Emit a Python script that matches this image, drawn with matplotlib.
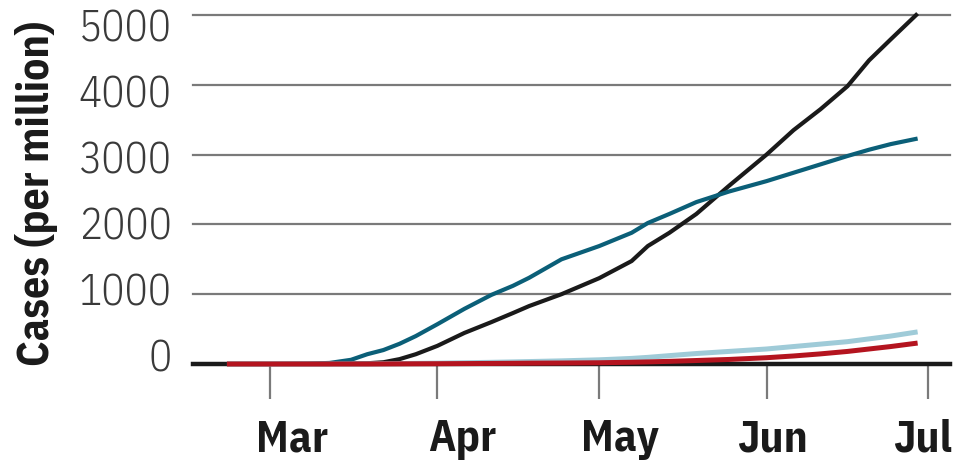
import matplotlib
matplotlib.use("Agg")
import matplotlib.pyplot as plt
import datetime as dt

plt.rcParams['font.family'] = ['IBM Plex Sans Condensed', 'DejaVu Sans']

# dates of the samples (2020)
dates = ["2020-02-22", "2020-03-01", "2020-03-08", "2020-03-12", "2020-03-16",
         "2020-03-19", "2020-03-22", "2020-03-25", "2020-03-28", "2020-04-01",
         "2020-04-06", "2020-04-11", "2020-04-15", "2020-04-18", "2020-04-24",
         "2020-05-01", "2020-05-07", "2020-05-10", "2020-05-14", "2020-05-19",
         "2020-05-25", "2020-06-01", "2020-06-06", "2020-06-11", "2020-06-16",
         "2020-06-20", "2020-06-24", "2020-06-29"]

black = [0, 0, 0, 0, 5, 10, 25, 70, 140, 260,
         445, 600, 730, 830, 1000, 1230, 1475, 1690, 1880, 2150,
         2550, 3000, 3350, 3650, 3980, 4350, 4650, 5020]

teal = [0, 0, 5, 15, 60, 140, 200, 290, 400, 570,
        790, 990, 1120, 1235, 1500, 1690, 1880, 2020, 2150, 2320,
        2470, 2620, 2740, 2860, 2980, 3070, 3150, 3230]

lightblue = [0, 0, 0, 0, 0, 2, 4, 6, 9, 12,
             18, 24, 30, 35, 45, 60, 80, 95, 120, 150,
             180, 215, 250, 285, 320, 360, 400, 460]

red = [0, 0, 0, 0, 0, 0, 1, 2, 3, 4,
       6, 8, 10, 12, 14, 18, 25, 30, 38, 50,
       65, 90, 115, 145, 180, 215, 250, 300]

yticks = [0, 1000, 2000, 3000, 4000, 5000]
months = ["2020-03-01", "2020-04-01", "2020-05-01", "2020-06-01", "2020-07-01"]
month_labels = ["Mar", "Apr", "May", "Jun", "Jul"]
label_shift = [16, 18, 15, 4, -4]   # pts, labels sit a bit off their ticks

x = [dt.datetime.strptime(d, "%Y-%m-%d") for d in dates]
mx = [dt.datetime.strptime(d, "%Y-%m-%d") for d in months]

fig = plt.figure(figsize=(9.55, 4.62), dpi=100)
ax = fig.add_axes([193/955, (462-364)/462, (950-193)/955, (364-15)/462])

for v in yticks[1:]:
    ax.axhline(v, color='#7a7a7a', lw=1.6, zorder=1, clip_on=False)
ax.axhline(0, color='#1a1a1a', lw=3.2, zorder=2, clip_on=False)

ax.plot(x, black, color='#1a1a1a', lw=3.0, zorder=3, clip_on=False, solid_capstyle='butt')
ax.plot(x, teal, color='#0b5f78', lw=3.0, zorder=4, clip_on=False, solid_capstyle='butt')
ax.plot(x, lightblue, color='#9fcbd8', lw=3.6, zorder=5, clip_on=False, solid_capstyle='butt')
ax.plot(x, red, color='#b4141f', lw=3.6, zorder=6, clip_on=False, solid_capstyle='butt')

ax.set_xlim(dt.datetime(2020, 2, 15, 17), dt.datetime(2020, 7, 5))
ax.set_ylim(0, 5000)

ax.set_xticks(mx)
ax.set_xticklabels([])
ax.tick_params(axis='x', direction='out', length=25, width=1.6, color='#7a7a7a')
for d, lab, sh in zip(mx, month_labels, label_shift):
    ax.annotate(lab, xy=(d, 0), xytext=(sh, -63), textcoords='offset points',
                ha='center', va='baseline', fontsize=32, fontweight='bold',
                color='#1a1a1a', annotation_clip=False)

ax.set_yticks(yticks)
ax.set_yticklabels([])
ax.tick_params(axis='y', length=0)
for i, v in enumerate(yticks):
    ax.annotate(str(v), xy=(0, v), xycoords=('axes fraction', 'data'),
                xytext=(-15.5, -(8 + 3.7 * i) / 1.389), textcoords='offset points',
                ha='right', va='baseline', fontsize=31, fontweight=300,
                color='#3a3a3a', annotation_clip=False)

for s in ax.spines.values():
    s.set_visible(False)

fig.text(36/955, 1 - 193/462, 'Cases (per million)', rotation=90, ha='center', va='center',
         fontsize=31.5, fontweight='bold', color='#1a1a1a')

fig.savefig('out.png', dpi=100)
